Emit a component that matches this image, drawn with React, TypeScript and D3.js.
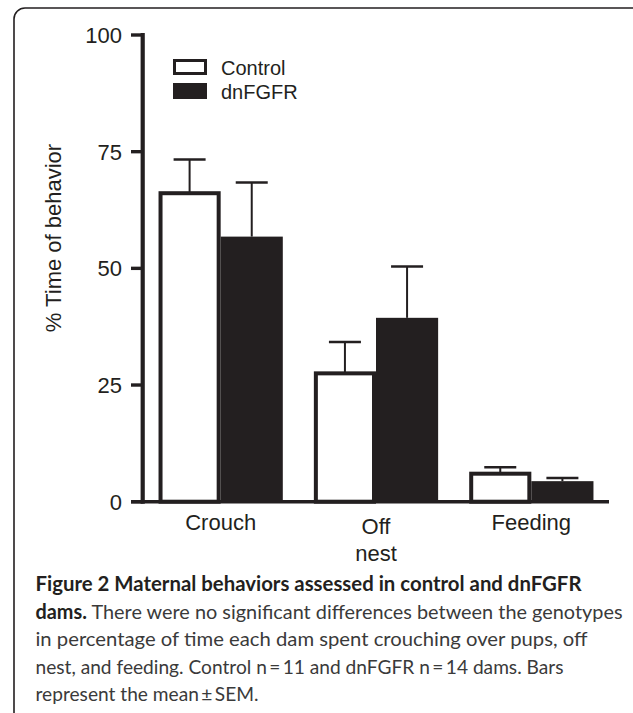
import React from "react";
import * as d3 from "d3";

const categories = ["Crouch", "Off nest", "Feeding"];
const categoryLines = [["Crouch"], ["Off", "nest"], ["Feeding"]];
const series = ["Control", "dnFGFR"];
const controlMean = [66.1, 27.5, 6.0];
const controlSem = [7.2, 6.7, 1.4];
const dnMean = [56.8, 39.4, 4.4];
const dnSem = [11.6, 11.0, 0.7];
const yTicks = [0, 25, 50, 75, 100];
const yTitle = "% Time of behavior";
const captionLines = [
  [{ b: true, t: "Figure 2 Maternal behaviors assessed in control and dnFGFR" }],
  [{ b: true, t: "dams." }, { b: false, t: " There were no significant differences between the genotypes" }],
  [{ b: false, t: "in percentage of time each dam spent crouching over pups, off" }],
  [{ b: false, t: "nest, and feeding. Control n\u2009=\u200911 and dnFGFR n\u2009=\u200914 dams. Bars" }],
  [{ b: false, t: "represent the mean\u2009\u00b1\u2009SEM." }],
];
const captionWidths = [546, 587, 552, 528, 223];

const INK = "#231f20";

export default function App() {
  const W = 633, H = 713;
  const y = d3.scaleLinear().domain([0, 100]).range([501.7, 35]);
  const x = d3.scaleBand<string>().domain(categories).range([143, 609]).paddingInner(0.2).paddingOuter(0.1);
  const bw = x.bandwidth();
  const half = bw / 2;
  const axisX = 142.7;
  const font = "'Liberation Sans', Arial, sans-serif";
  const capFont = "Lato, 'Open Sans', sans-serif";

  return (
    <svg width={W} height={H} style={{ position: "absolute", left: 0, top: 0, background: "#fff" }}>
      <rect x={14} y={8} width={700} height={730} rx={11} ry={11} fill="none" stroke={INK} strokeWidth={1.6} />
      {/* bars */}
      {categories.map((c, i) => {
        const x0 = x(c)!;
        const cTop = y(controlMean[i]);
        const dTop = y(dnMean[i]);
        const cc = x0 + half / 2;
        const dc = x0 + half + half / 2;
        return (
          <g key={c}>
            <line x1={cc} x2={cc} y1={cTop} y2={y(controlMean[i] + controlSem[i])} stroke={INK} strokeWidth={2} />
            <line x1={cc - 16} x2={cc + 16} y1={y(controlMean[i] + controlSem[i])} y2={y(controlMean[i] + controlSem[i])} stroke={INK} strokeWidth={2.5} />
            <line x1={dc} x2={dc} y1={dTop} y2={y(dnMean[i] + dnSem[i])} stroke={INK} strokeWidth={2} />
            <line x1={dc - 16} x2={dc + 16} y1={y(dnMean[i] + dnSem[i])} y2={y(dnMean[i] + dnSem[i])} stroke={INK} strokeWidth={2.5} />
            <rect x={x0 + 2} y={cTop} width={half - 4} height={y(0) - cTop} fill="#fff" stroke={INK} strokeWidth={4} />
            <rect x={x0 + half} y={dTop} width={half} height={y(0) - dTop} fill={INK} />
          </g>
        );
      })}
      {/* axes */}
      <line x1={axisX} x2={axisX} y1={y(100) - 2} y2={y(0) + 2} stroke={INK} strokeWidth={4.2} />
      <line x1={131} x2={609} y1={y(0)} y2={y(0)} stroke={INK} strokeWidth={3.6} />
      {yTicks.map((t) => (
        <g key={t}>
          <line x1={131} x2={axisX} y1={y(t)} y2={y(t)} stroke={INK} strokeWidth={3.4} />
          <text x={122} y={y(t)} dy="0.36em" textAnchor="end" fontFamily={font} fontSize={22} fill={INK}>{t}</text>
        </g>
      ))}
      {categories.map((c, i) => {
        const cx = x(c)! + half;
        const lines = categoryLines[i];
        const base = lines.length > 1 ? 534 : 530;
        return lines.map((l, j) => (
          <text key={c + j} x={cx} y={base + j * 26.5} textAnchor="middle" fontFamily={font} fontSize={22} fill={INK}>{l}</text>
        ));
      })}
      <text transform={`translate(61,238) rotate(-90)`} textAnchor="middle" fontFamily={font} fontSize={22} fill={INK}>{yTitle}</text>
      {/* legend */}
      <rect x={174.5} y={60.5} width={31} height={13} fill="#fff" stroke={INK} strokeWidth={3} />
      <rect x={173} y={83} width={34} height={16} fill={INK} />
      <text x={221} y={75} fontFamily={font} fontSize={20} fill={INK}>{series[0]}</text>
      <text x={221} y={98.5} fontFamily={font} fontSize={20} fill={INK}>{series[1]}</text>
      {/* caption */}
      {captionLines.map((parts, i) => (
        <text key={i} x={35.5} y={591 + i * 27.6} fontFamily={capFont} fontSize={20} textLength={captionWidths[i]} lengthAdjust="spacingAndGlyphs">
          {parts.map((p, k) => (
            <tspan key={k} fontWeight={p.b ? 700 : 400} fill={p.b ? INK : "#3a3a3a"}>{p.t}</tspan>
          ))}
        </text>
      ))}
    </svg>
  );
}
